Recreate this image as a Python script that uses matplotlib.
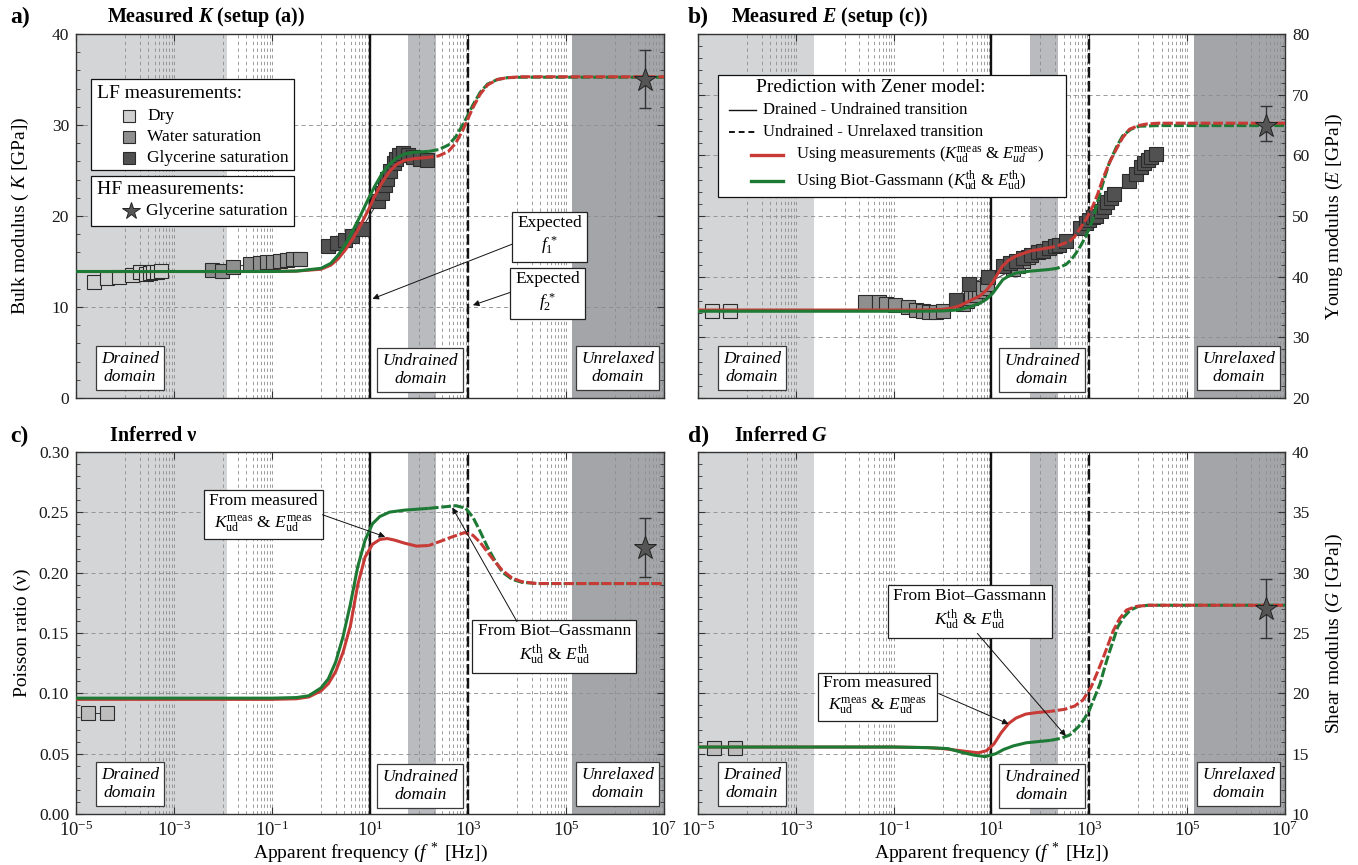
import numpy as np
import matplotlib
matplotlib.use("Agg")
import matplotlib.pyplot as plt
import matplotlib.ticker as mticker
import matplotlib.transforms as mtransforms
from matplotlib.patches import Rectangle
from matplotlib.lines import Line2D

plt.rcParams.update({
    "font.family": ["Liberation Serif", "DejaVu Serif"],
    "mathtext.fontset": "custom",
    "mathtext.rm": "Liberation Serif",
    "mathtext.it": "Liberation Serif:italic",
    "mathtext.bf": "Liberation Serif:bold",
})
HAS_BFIT = "mathtext.bfit" in plt.rcParams
if HAS_BFIT:
    plt.rcParams["mathtext.bfit"] = "Liberation Serif:italic:bold"

# ---------------------------------------------------------------- data
# frequencies are given as log10(f* [Hz])
K_DRY_LOGF = [-4.63, -4.37, -4.12, -3.86, -3.69, -3.58, -3.50, -3.42, -3.34, -3.26]
K_DRY = [12.8, 13.15, 13.3, 13.5, 13.9, 13.6, 13.7, 13.8, 13.9, 14.0]
K_WATER_LOGF = [-2.23, -2.03, -1.79, -1.45, -1.24, -1.11, -0.97, -0.84, -0.70, -0.57, -0.43]
K_WATER = [14.1, 14.0, 14.4, 14.7, 14.8, 14.9, 15.0, 15.1, 15.2, 15.25, 15.3]
K_GLY_LOGF = [0.15, 0.32, 0.49, 0.63, 0.83, 1.17, 1.24, 1.31, 1.35, 1.41, 1.48, 1.53,
              1.60, 1.68, 1.78, 1.88, 2.02, 2.16]
K_GLY = [16.7, 17.0, 17.4, 17.8, 18.6, 21.6, 22.5, 23.4, 24.1, 24.9, 25.8, 26.3,
         26.7, 26.9, 26.7, 26.5, 26.3, 26.2]

E_DRY_LOGF = [-4.72, -4.34]
E_DRY = [34.4, 34.4]
E_WATER_LOGF = [-1.59, -1.29, -1.15, -0.98, -0.71, -0.54, -0.40, -0.27, -0.13, 0.0,
                0.42, 0.50, 0.58, 0.66, 0.74, 0.82, 0.90, 1.44, 1.55, 1.65, 1.75]
E_WATER = [35.9, 35.8, 35.5, 35.3, 35.0, 34.5, 34.3, 34.2, 34.2, 34.4,
           35.5, 36.0, 36.5, 37.0, 37.6, 38.2, 38.8, 41.2, 41.8, 42.5, 43.2]
E_GLY_LOGF = [0.28, 0.54, 0.93, 1.23, 1.37, 1.50, 1.65, 1.81, 1.95, 2.05, 2.18, 2.30,
              2.39, 2.52, 2.80, 2.93, 3.00, 3.07, 3.14, 3.24, 3.31, 3.37, 3.44, 3.51,
              3.82, 3.95, 4.06, 4.12, 4.19, 4.26, 4.36]
E_GLY = [36.2, 38.8, 40.0, 41.7, 42.2, 42.6, 43.0, 43.6, 44.0, 44.3, 44.7, 45.0,
         45.3, 45.9, 48.0, 48.9, 49.4, 49.8, 50.0, 50.8, 51.5, 52.3, 53.0, 53.6,
         55.8, 56.9, 58.0, 58.8, 59.3, 59.8, 60.2]

NU_DRY_LOGF = [-4.76, -4.36]
NU_DRY = [0.084, 0.084]
G_DRY_LOGF = [-4.67, -4.24]
G_DRY = [15.5, 15.5]

# high-frequency (ultrasonic) glycerine point with error bar
HF_LOGF = 6.62
K_HF, K_HF_LO, K_HF_HI = 34.9, 31.9, 38.2
E_HF, E_HF_LO, E_HF_HI = 64.8, 62.3, 68.1
NU_HF, NU_HF_LO, NU_HF_HI = 0.2207, 0.196, 0.245
G_HF, G_HF_LO, G_HF_HI = 27.0, 24.6, 29.5

# Zener-model predictions: drained-undrained part (solid) and undrained-unrelaxed part (dashed)
SOLID_LOGF_K = [-5, -1, -0.5, 0, 0.2, 0.35, 0.5, 0.65, 0.8, 0.95, 1.1, 1.25, 1.4, 1.55, 1.7, 1.9, 2.2]
K_MEAS_SOLID = [13.9, 13.9, 13.95, 14.15, 14.6, 15.3, 16.3, 17.5, 18.9, 20.5, 22.2, 23.7,
                24.9, 25.7, 26.1, 26.3, 26.45]
K_TH_SOLID = [13.9, 13.9, 13.95, 14.25, 14.8, 15.7, 16.9, 18.4, 20.0, 21.7, 23.3, 24.7,
              25.7, 26.4, 26.8, 27.0, 27.1]
DASH_LOGF_K = [2.2, 2.4, 2.6, 2.75, 2.9, 3.0, 3.1, 3.25, 3.4, 3.6, 3.8, 4.1, 7.0]
K_MEAS_DASH = [26.45, 26.6, 27.1, 28.0, 29.5, 30.7, 31.9, 33.4, 34.4, 35.0, 35.2, 35.3, 35.3]
K_TH_DASH = [27.1, 27.3, 27.8, 28.7, 30.1, 31.1, 32.2, 33.6, 34.5, 35.0, 35.2, 35.25, 35.25]

E_MEAS_SOLID_LOGF = [-5, -0.5, 0.0, 0.2, 0.35, 0.5, 0.65, 0.76, 0.9, 1.02, 1.12, 1.22,
                     1.35, 1.5, 1.78, 2.12, 2.2]
E_MEAS_SOLID = [34.5, 34.5, 34.6, 34.85, 35.2, 35.8, 36.4, 36.8, 37.8, 39.0, 40.4, 41.7,
                42.7, 43.4, 44.2, 44.7, 44.8]
E_MEAS_DASH_LOGF = [2.2, 2.32, 2.59, 2.7, 2.8, 2.93, 3.07, 3.17, 3.27, 3.4, 3.55, 3.68,
                    3.82, 4.0, 4.16, 4.4, 7.0]
E_MEAS_DASH = [44.8, 45.0, 45.8, 46.6, 47.8, 49.4, 51.6, 53.6, 56.0, 58.6, 61.0, 62.9,
               64.3, 64.9, 65.15, 65.3, 65.3]
E_TH_SOLID_LOGF = [-5, -0.5, 0.0, 0.2, 0.35, 0.55, 0.76, 0.9, 1.03, 1.13, 1.23, 1.35,
                   1.5, 1.78, 2.2]
E_TH_SOLID = [34.3, 34.3, 34.35, 34.45, 34.55, 35.0, 35.6, 36.3, 37.3, 38.4, 39.5, 40.1,
              40.6, 40.9, 41.2]
E_TH_DASH_LOGF = [2.2, 2.35, 2.52, 2.63, 2.73, 2.83, 2.93, 3.0, 3.07, 3.2, 3.3, 3.41,
                  3.55, 3.68, 3.85, 4.02, 4.4, 7.0]
E_TH_DASH = [41.2, 41.4, 42.0, 42.8, 43.9, 45.2, 46.7, 48.0, 49.4, 53.3, 56.0, 58.8,
             61.3, 63.2, 64.3, 64.8, 64.9, 64.9]

NU_MEAS_SOLID_LOGF = [-5, -1, -0.5, -0.25, 0.0, 0.15, 0.3, 0.45, 0.6, 0.75, 0.9, 1.05,
                      1.2, 1.35, 1.5, 1.7, 1.95, 2.2]
NU_MEAS_SOLID = [0.095, 0.095, 0.0955, 0.097, 0.102, 0.108, 0.118, 0.134, 0.156, 0.190,
                 0.213, 0.2235, 0.2275, 0.2283, 0.227, 0.2245, 0.222, 0.2225]
NU_MEAS_DASH_LOGF = [2.2, 2.45, 2.7, 2.93, 3.1, 3.25, 3.4, 3.55, 3.7, 3.9, 4.1, 4.4, 7.0]
NU_MEAS_DASH = [0.2225, 0.2262, 0.230, 0.2332, 0.231, 0.225, 0.217, 0.209, 0.202, 0.1955,
                0.1925, 0.191, 0.191]
NU_TH_SOLID_LOGF = [-5, -1, -0.5, -0.25, 0.0, 0.15, 0.3, 0.45, 0.6, 0.75, 0.9, 1.05,
                    1.2, 1.4, 1.7, 2.0, 2.2]
NU_TH_SOLID = [0.096, 0.096, 0.0965, 0.098, 0.1045, 0.112, 0.126, 0.147, 0.174, 0.205,
               0.227, 0.2405, 0.2465, 0.2502, 0.2518, 0.2527, 0.2533]
NU_TH_DASH_LOGF = [2.2, 2.5, 2.75, 2.95, 3.1, 3.25, 3.4, 3.55, 3.7, 3.9, 4.1, 4.4, 7.0]
NU_TH_DASH = [0.2533, 0.2545, 0.2555, 0.2535, 0.246, 0.234, 0.221, 0.210, 0.2005, 0.1945,
              0.192, 0.191, 0.191]

G_MEAS_SOLID_LOGF = [-5, -1, -0.3, 0.0, 0.3, 0.56, 0.73, 0.9, 1.05, 1.2, 1.35, 1.5, 1.7,
                     1.95, 2.2]
G_MEAS_SOLID = [15.55, 15.55, 15.5, 15.42, 15.28, 15.15, 15.07, 15.25, 15.8, 16.75, 17.5,
                17.95, 18.28, 18.42, 18.5]
G_MEAS_DASH_LOGF = [2.2, 2.5, 2.7, 2.87, 3.04, 3.15, 3.27, 3.38, 3.49, 3.62, 3.76, 3.95,
                    4.2, 7.0]
G_MEAS_DASH = [18.5, 18.68, 18.95, 19.45, 20.55, 21.6, 22.8, 24.0, 25.2, 26.2, 26.9, 27.2,
               27.3, 27.3]
G_TH_SOLID_LOGF = [-5, -1, -0.3, 0.11, 0.4, 0.64, 0.87, 1.09, 1.25, 1.45, 1.71, 2.0, 2.2]
G_TH_SOLID = [15.55, 15.55, 15.5, 15.42, 15.1, 14.88, 14.75, 15.0, 15.35, 15.65, 15.9,
              16.02, 16.1]
G_TH_DASH_LOGF = [2.2, 2.42, 2.6, 2.78, 2.9, 3.0, 3.11, 3.22, 3.31, 3.4, 3.5, 3.58, 3.7,
                  3.84, 4.0, 4.2, 7.0]
G_TH_DASH = [16.1, 16.27, 16.55, 17.24, 17.9, 18.6, 19.7, 20.8, 22.1, 23.3, 24.5, 25.5,
             26.3, 26.9, 27.2, 27.3, 27.3]

# characteristic frequencies and domain limits (log10 Hz)
F1_LOG, F2_LOG = 1.0, 3.0
UNDRAINED_BAND = (1.78, 2.35)
UNRELAXED_START = 5.13

XTICK_EXP = [-5, -3, -1, 1, 3, 5, 7]

# ---------------------------------------------------------------- style
C_LIGHT = "#d4d5d7"
C_MID = "#babbbe"
C_DARK = "#a4a5a8"
C_GRID = "#8c8c8c"
C_RED = "#c83a35"
C_GREEN = "#1d7a34"
C_DRYM = "#cfcfcf"
C_WATM = "#8f8f8f"
C_GLYM = "#515151"
C_EDGE = "#2b2b2b"

W, H = 1358, 865
fig = plt.figure(figsize=(W / 100, H / 100), dpi=100)

BOX = {"a": (76, 664, 34, 398), "b": (698, 1285, 34, 398),
       "c": (76, 664, 452, 814), "d": (698, 1285, 452, 814)}


def lf(v):
    return 10.0 ** np.asarray(v, dtype=float)


def ax_xy(key, px, py):
    l, r, t, b = BOX[key]
    return (px - l) / (r - l), (b - py) / (b - t)


def make_panel(key, ylim, ymaj, ymin, yfmt, light_end, right=False, xlabels=False):
    l, r, t, b = BOX[key]
    ax = fig.add_axes([l / W, 1 - b / H, (r - l) / W, (b - t) / H])
    ax.set_xscale("log")
    ax.set_xlim(1e-5, 1e7)
    ax.set_ylim(*ylim)
    ax.axvspan(1e-5, 10 ** light_end, color=C_LIGHT, lw=0, zorder=0)
    ax.axvspan(10 ** UNDRAINED_BAND[0], 10 ** UNDRAINED_BAND[1], color=C_MID, lw=0, zorder=0)
    ax.axvspan(10 ** UNRELAXED_START, 1e7, color=C_DARK, lw=0, zorder=0)
    gkw = dict(color=C_GRID, lw=0.6, ls=(0, (4, 4)), zorder=1)
    for k in range(-4, 7):
        ax.axvline(10.0 ** k, **gkw)
    for k in (-4, -2, 0, 2, 4, 6):
        for m in range(2, 10):
            ax.axvline(m * 10.0 ** k, **gkw)
    n = int(round((ylim[1] - ylim[0]) / ymaj))
    for i in range(1, n):
        ax.axhline(ylim[0] + i * ymaj, color=C_GRID, lw=0.6, ls=(0, (5, 4)), zorder=1)
    ax.axvline(10 ** F1_LOG, color="#111", lw=1.7, zorder=3)
    ax.axvline(10 ** F2_LOG, color="#111", lw=1.7, ls=(0, (4.5, 1.4)), zorder=3)

    ax.xaxis.set_major_locator(mticker.FixedLocator([10.0 ** e for e in XTICK_EXP]))
    ax.xaxis.set_major_formatter(mticker.FixedFormatter([rf"$10^{{{e}}}$" for e in XTICK_EXP]))
    ax.xaxis.set_minor_locator(mticker.NullLocator())
    ax.yaxis.set_major_locator(mticker.MultipleLocator(ymaj))
    ax.yaxis.set_minor_locator(mticker.MultipleLocator(ymin))
    ax.yaxis.set_major_formatter(mticker.FormatStrFormatter(yfmt))
    ax.tick_params(which="both", direction="in", top=True, bottom=True, left=True,
                   right=True, labelsize=12.5, color="#333", labelcolor="#1a1a1a")
    ax.tick_params(axis="x", labelsize=13.5)
    ax.tick_params(which="major", length=5, width=0.8, pad=5)
    ax.tick_params(which="minor", length=3, width=0.6)
    ax.tick_params(labelbottom=xlabels, labelleft=not right, labelright=right)
    for s in ax.spines.values():
        s.set_linewidth(1.0)
        s.set_color("#333")
    if right:
        ax.yaxis.set_label_position("right")
    if xlabels:
        ax.set_xlabel(r"Apparent frequency ($f^{\,*}$ [Hz])", fontsize=14)
        ax.xaxis.set_label_coords(0.5, -0.075)
    return ax


def draw_curves(ax, red_s, red_d, green_s, green_d):
    lw = 2.2
    dash = (0, (3.2, 0.9))
    ax.plot(lf(red_s[0]), red_s[1], color=C_RED, lw=lw, zorder=5, solid_capstyle="butt")
    ax.plot(lf(green_s[0]), green_s[1], color=C_GREEN, lw=lw, zorder=5, solid_capstyle="butt")
    ax.plot(lf(green_d[0]), green_d[1], color=C_GREEN, lw=lw, ls=dash, zorder=5)
    ax.plot(lf(red_d[0]), red_d[1], color=C_RED, lw=lw, ls=(1.6, (3.2, 0.9)), zorder=5)


def draw_series(ax, logf, vals, face):
    ax.plot(lf(logf), vals, color="#333", lw=0.7, marker="s", ms=9.5, mfc=face,
            mec=C_EDGE, mew=0.8, zorder=4)


def draw_hf(ax, val, lo, hi):
    ax.errorbar([10 ** HF_LOGF], [val], yerr=[[val - lo], [hi - val]], fmt="none",
                ecolor="#333", elinewidth=1.0, capsize=4, capthick=1.0, zorder=6)
    ax.plot([10 ** HF_LOGF], [val], marker="*", ms=17, mfc="#555555", mec="#222",
            mew=0.7, ls="none", zorder=7)


def domain_labels(ax):
    tr = mtransforms.blended_transform_factory(ax.transData, ax.transAxes)
    for lx, ly, txt in [(-3.9, 0.082, "Drained\ndomain"),
                        (2.03, 0.077, "Undrained\ndomain"),
                        (6.05, 0.082, "Unrelaxed\ndomain")]:
        ax.text(10 ** lx, ly, txt, transform=tr, ha="center", va="center",
                fontsize=12.5, style="italic", linespacing=1.15, zorder=8,
                bbox=dict(boxstyle="square,pad=0.3", fc="white", ec="#3a3a3a", lw=0.9))


def note(ax, text, pos, tail, head):
    ax.text(10 ** pos[0], pos[1], text, ha="center", va="center", fontsize=12.5,
            linespacing=1.25, zorder=9,
            bbox=dict(boxstyle="square,pad=0.3", fc="white", ec="#222", lw=0.9))
    ax.annotate("", xy=(10 ** head[0], head[1]), xytext=(10 ** tail[0], tail[1]),
                arrowprops=dict(arrowstyle="-|>", color="#111", lw=0.7,
                                mutation_scale=9, shrinkA=0, shrinkB=0), zorder=9)


def panel_title(letter, title, lx, tx, y):
    fig.text(lx / W, 1 - y / H, letter, fontsize=17, fontweight="bold", va="center")
    fig.text(tx / W, 1 - y / H, title, fontsize=14.5, fontweight="bold", va="center")


def bold_it(sym):
    return rf"$\mathbfit{{{sym}}}$" if HAS_BFIT else rf"$\mathit{{{sym}}}$"


# ---------------------------------------------------------------- panel a
axA = make_panel("a", (0, 40), 10, 2, "%d", -1.92)
axA.set_ylabel(r"Bulk modulus ( $K$ [GPa])", fontsize=14)
axA.yaxis.set_label_coords(-0.077, 0.5)
draw_series(axA, K_DRY_LOGF, K_DRY, C_DRYM)
draw_series(axA, K_WATER_LOGF, K_WATER, C_WATM)
draw_series(axA, K_GLY_LOGF, K_GLY, C_GLYM)
draw_curves(axA, (SOLID_LOGF_K, K_MEAS_SOLID), (DASH_LOGF_K, K_MEAS_DASH),
            (SOLID_LOGF_K, K_TH_SOLID), (DASH_LOGF_K, K_TH_DASH))
draw_hf(axA, K_HF, K_HF_LO, K_HF_HI)
domain_labels(axA)
note(axA, "Expected\n$f_1^{\\,*}$", (4.66, 17.8), (3.9, 16.9), (1.05, 10.9))
note(axA, "Expected\n$f_2^{\\,*}$", (4.63, 11.6), (3.86, 11.6), (3.1, 10.2))


def legend_box(ax, key, x0, y0, x1, y1):
    ax0, ay1 = ax_xy(key, x0, y0)
    ax1, ay0 = ax_xy(key, x1, y1)
    ax.add_patch(Rectangle((ax0, ay0), ax1 - ax0, ay1 - ay0, transform=ax.transAxes,
                           fc="white", ec="#111", lw=0.9, zorder=10))


def leg_text(ax, key, px, py, s, size=12.5, ha="left"):
    x, y = ax_xy(key, px, py)
    ax.text(x, y, s, transform=ax.transAxes, fontsize=size, va="center", ha=ha, zorder=11)


def leg_marker(ax, key, px, py, **kw):
    x, y = ax_xy(key, px, py)
    ax.add_line(Line2D([x], [y], transform=ax.transAxes, ls="none", zorder=11, **kw))


legend_box(axA, "a", 91, 79, 294, 170)
leg_text(axA, "a", 97, 93, "LF measurements:", size=14)
for yy, face, lab in [(116, C_DRYM, "Dry"), (137, C_WATM, "Water saturation"),
                      (158, C_GLYM, "Glycerine saturation")]:
    leg_marker(axA, "a", 129, yy, marker="s", ms=9, mfc=face, mec=C_EDGE, mew=0.8)
    leg_text(axA, "a", 147, yy, lab)
legend_box(axA, "a", 91, 176, 294, 226)
leg_text(axA, "a", 97, 189, "HF measurements:", size=14)
leg_marker(axA, "a", 131, 211, marker="*", ms=13, mfc="#555555", mec="#222", mew=0.7)
leg_text(axA, "a", 146, 211, "Glycerine saturation")

panel_title("a)", "Measured " + bold_it("K") + " (setup (a))", 10, 107, 17)

# ---------------------------------------------------------------- panel b
axB = make_panel("b", (20, 80), 10, 2, "%d", -2.62, right=True)
axB.set_ylabel(r"Young modulus ($E$ [GPa])", fontsize=14)
axB.yaxis.set_label_coords(1.066, 0.5)
draw_series(axB, E_DRY_LOGF, E_DRY, C_DRYM)
draw_series(axB, E_WATER_LOGF, E_WATER, C_WATM)
draw_series(axB, E_GLY_LOGF, E_GLY, C_GLYM)
draw_curves(axB, (E_MEAS_SOLID_LOGF, E_MEAS_SOLID), (E_MEAS_DASH_LOGF, E_MEAS_DASH),
            (E_TH_SOLID_LOGF, E_TH_SOLID), (E_TH_DASH_LOGF, E_TH_DASH))
draw_hf(axB, E_HF, E_HF_LO, E_HF_HI)
domain_labels(axB)

legend_box(axB, "b", 718, 75, 1066, 197)
leg_text(axB, "b", 871, 87, "Prediction with Zener model:", size=14, ha="center")
for yy, ls, lab in [(110, "-", "Drained - Undrained transition"),
                    (132, (0, (3, 2)), "Undrained - Unrelaxed transition")]:
    x0, y0 = ax_xy("b", 729, yy)
    x1, _ = ax_xy("b", 756, yy)
    axB.add_line(Line2D([x0, x1], [y0, y0], transform=axB.transAxes, color="#111",
                        lw=1.0 if ls == "-" else 1.4, ls=ls, zorder=11))
    leg_text(axB, "b", 763, yy, lab, size=12)
for yy, col, lab in [(155, C_RED, r"Using measurements ($K_{\mathrm{ud}}^{\mathrm{meas}}$ & $E_{ud}^{\mathrm{meas}}$)"),
                     (181, C_GREEN, r"Using Biot-Gassmann ($K_{\mathrm{ud}}^{\mathrm{th}}$ & $E_{\mathrm{ud}}^{\mathrm{th}}$)")]:
    x0, y0 = ax_xy("b", 751, yy)
    x1, _ = ax_xy("b", 783, yy)
    axB.add_line(Line2D([x0, x1], [y0, y0], transform=axB.transAxes, color=col,
                        lw=2.4, zorder=11))
    leg_text(axB, "b", 796, yy, lab, size=12)

panel_title("b)", "Measured " + bold_it("E") + " (setup (c))", 688, 731, 17)

# ---------------------------------------------------------------- panel c
axC = make_panel("c", (0, 0.30), 0.05, 0.01, "%.2f", -1.92, xlabels=True)
axC.set_ylabel("Poisson ratio (ν)", fontsize=14)
axC.yaxis.set_label_coords(-0.077, 0.5)
draw_series(axC, NU_DRY_LOGF, NU_DRY, "#bdbdbd")
draw_curves(axC, (NU_MEAS_SOLID_LOGF, NU_MEAS_SOLID), (NU_MEAS_DASH_LOGF, NU_MEAS_DASH),
            (NU_TH_SOLID_LOGF, NU_TH_SOLID), (NU_TH_DASH_LOGF, NU_TH_DASH))
draw_hf(axC, NU_HF, NU_HF_LO, NU_HF_HI)
domain_labels(axC)
note(axC, "From measured\n$K_{\\mathrm{ud}}^{\\mathrm{meas}}$ & $E_{\\mathrm{ud}}^{\\mathrm{meas}}$",
     (-1.17, 0.249), (0.03, 0.248), (1.31, 0.2297))
note(axC, "From Biot–Gassmann\n$K_{\\mathrm{ud}}^{\\mathrm{th}}$ & $E_{\\mathrm{ud}}^{\\mathrm{th}}$",
     (4.76, 0.140), (4.0, 0.1594), (2.68, 0.254))
panel_title("c)", "Inferred ν", 10, 110, 436)

# ---------------------------------------------------------------- panel d
axD = make_panel("d", (10, 40), 5, 1, "%d", -2.62, right=True, xlabels=True)
axD.set_ylabel(r"Shear modulus ($G$ [GPa])", fontsize=14)
axD.yaxis.set_label_coords(1.066, 0.5)
draw_series(axD, G_DRY_LOGF, G_DRY, "#bdbdbd")
draw_curves(axD, (G_MEAS_SOLID_LOGF, G_MEAS_SOLID), (G_MEAS_DASH_LOGF, G_MEAS_DASH),
            (G_TH_SOLID_LOGF, G_TH_SOLID), (G_TH_DASH_LOGF, G_TH_DASH))
draw_hf(axD, G_HF, G_HF_LO, G_HF_HI)
domain_labels(axD)
note(axD, "From Biot–Gassmann\n$K_{\\mathrm{ud}}^{\\mathrm{th}}$ & $E_{\\mathrm{ud}}^{\\mathrm{th}}$",
     (0.56, 26.9), (0.71, 24.97), (2.52, 16.46))
note(axD, "From measured\n$K_{\\mathrm{ud}}^{\\mathrm{meas}}$ & $E_{\\mathrm{ud}}^{\\mathrm{meas}}$",
     (-1.33, 19.8), (-0.08, 19.98), (1.35, 17.46))
panel_title("d)", "Inferred " + bold_it("G"), 688, 734, 436)

fig.savefig("out.png", dpi=100)
